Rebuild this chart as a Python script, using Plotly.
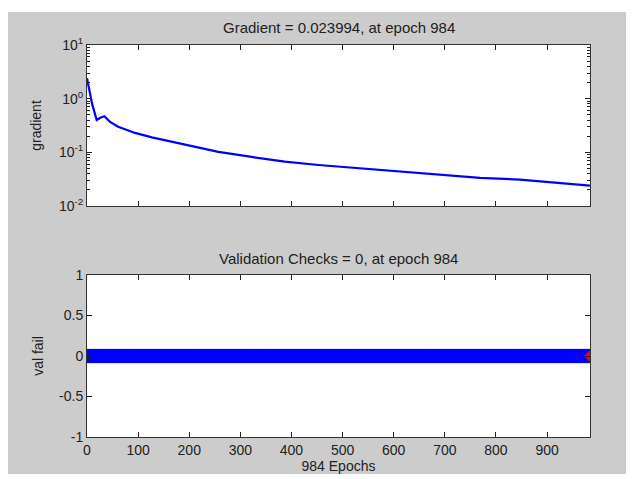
import plotly.graph_objects as go

# ---- data ----
grad_epochs = [0, 4, 10, 19, 26, 34, 45, 61, 94, 127, 192, 257, 322, 387, 453, 505,
               600, 700, 769, 847, 887, 926, 984]
grad_values = [2.4, 1.5, 0.8, 0.40, 0.44, 0.47, 0.37, 0.30, 0.23, 0.19, 0.139, 0.102,
               0.082, 0.067, 0.058, 0.053, 0.044, 0.037, 0.0334, 0.0310, 0.0285,
               0.0270, 0.023994]

val_epochs = list(range(985))
val_fail = [0] * 985
best_epoch = [984]
best_val = [0]

x_ticks = [0, 100, 200, 300, 400, 500, 600, 700, 800, 900]
grad_tickvals = [0.01, 0.1, 1, 10]
grad_ticktext = ["10<sup>-2</sup>", "10<sup>-1</sup>", "10<sup>0</sup>", "10<sup>1</sup>"]
grad_minor = [m * d for d in (0.01, 0.1, 1) for m in range(2, 10)]
val_ticks = [-1, -0.5, 0, 0.5, 1]
val_ticktext = ["-1", "-0.5", "0", "0.5", "1"]

grad_title = "Gradient = 0.023994, at epoch 984"
val_title = "Validation Checks = 0, at epoch 984"

# ---- figure ----
W, H = 632, 479
L, R, T, B = 87, 590, 45, 437          # plot area in pixels
FONT = "Liberation Sans, Arial, sans-serif"
TXT = "#222222"

def px(x):
    return (x - L) / (R - L)

def py(y):
    return (B - y) / (B - T)

fig = go.Figure()

fig.add_trace(go.Scatter(x=grad_epochs, y=grad_values, mode="lines",
                         line=dict(color="#0000ff", width=2.2),
                         xaxis="x", yaxis="y", showlegend=False))

fig.add_trace(go.Scatter(x=val_epochs, y=val_fail, mode="lines+markers",
                         line=dict(color="#0000ff", width=2),
                         marker=dict(symbol="diamond", size=11, color="#0000ff",
                                     line=dict(width=0)),
                         xaxis="x2", yaxis="y2", showlegend=False))
fig.add_trace(go.Scatter(x=best_epoch, y=best_val, mode="markers",
                         marker=dict(symbol="diamond", size=9, color="#ff0000",
                                     line=dict(color="#cc0000", width=0.5)),
                         xaxis="x2", yaxis="y2", showlegend=False))

axis_common = dict(showline=True, linecolor="#333333", linewidth=1, mirror="ticks",
                   ticks="inside", tickcolor="#222222", ticklen=5, tickwidth=1,
                   showgrid=False, zeroline=False, automargin=False,
                   tickfont=dict(family=FONT, size=14, color=TXT))

fig.update_layout(
    width=W, height=H,
    margin=dict(l=L, r=W - R, t=T, b=H - B, autoexpand=False),
    paper_bgcolor="white",
    plot_bgcolor="white",
    xaxis=dict(domain=[0, 1], range=[0, 984], tickvals=x_ticks, showticklabels=False,
               anchor="y", **axis_common),
    yaxis=dict(domain=[py(206), py(45)], type="log", range=[-2, 1],
               tickvals=grad_tickvals, ticktext=grad_ticktext, anchor="x",
               minor=dict(tickvals=grad_minor, ticks="inside", ticklen=3,
                          tickcolor="#222222", showgrid=False),
               title=dict(text="gradient", font=dict(family=FONT, size=14, color=TXT),
                          standoff=14),
               **axis_common),
    xaxis2=dict(domain=[0, 1], range=[0, 984], tickvals=x_ticks, anchor="y2",
                title=dict(text="984 Epochs", font=dict(family=FONT, size=14, color=TXT),
                           standoff=2),
                **axis_common),
    yaxis2=dict(domain=[py(437), py(275)], range=[-1, 1], tickvals=val_ticks,
                ticktext=val_ticktext, anchor="x2",
                title=dict(text="val fail", font=dict(family=FONT, size=14, color=TXT),
                           standoff=12),
                **axis_common),
    shapes=[
        dict(type="rect", xref="paper", yref="paper", layer="below",
             x0=px(8), x1=px(626), y0=py(474), y1=py(12),
             fillcolor="#cccccc", line=dict(width=0)),
        dict(type="rect", xref="x domain", yref="y domain", layer="below",
             x0=0, x1=1, y0=0, y1=1, fillcolor="white", line=dict(width=0)),
        dict(type="rect", xref="x2 domain", yref="y2 domain", layer="below",
             x0=0, x1=1, y0=0, y1=1, fillcolor="white", line=dict(width=0)),
    ],
    annotations=[
        dict(text=grad_title, xref="paper", yref="paper", x=0.5,
             y=py(27), showarrow=False, font=dict(family=FONT, size=15, color=TXT),
             xanchor="center", yanchor="middle"),
        dict(text=val_title, xref="paper", yref="paper", x=0.5,
             y=py(258), showarrow=False, font=dict(family=FONT, size=15, color=TXT),
             xanchor="center", yanchor="middle"),
    ],
)

fig.write_html("out.html", config={"displayModeBar": False},
               post_script="document.body.style.margin='0';")
